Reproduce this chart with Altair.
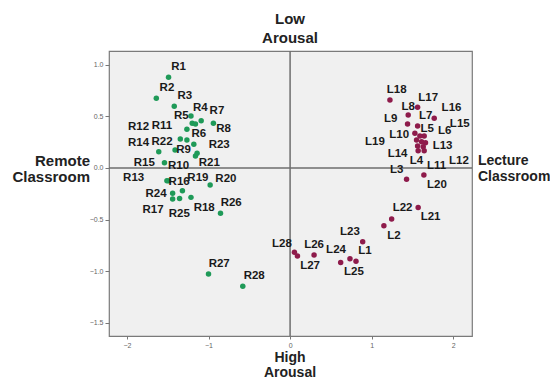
import altair as alt
import pandas as pd

# Remote classroom points (x, y) and label anchor positions (data units)
r_names = ["R1", "R2", "R3", "R4", "R5", "R6", "R7", "R8", "R9", "R10",
           "R11", "R12", "R13", "R14", "R15", "R16", "R17", "R18", "R19", "R20",
           "R21", "R22", "R23", "R24", "R25", "R26", "R27", "R28"]
r_x = [-1.49, -1.64, -1.42, -1.215, -1.20, -1.16, -1.09, -0.94, -1.41, -1.16,
       -1.265, -1.346, -1.51, -1.61, -1.54, -1.49, -1.44, -1.215, -1.32, -0.98,
       -1.14, -1.265, -1.18, -1.44, -1.355, -0.853, -1.00, -0.58]
r_y = [0.88, 0.676, 0.60, 0.504, 0.433, 0.427, 0.459, 0.433, 0.175, 0.116,
       0.375, 0.281, -0.123, 0.158, 0.05, -0.125, -0.30, -0.285, -0.22, -0.165,
       0.142, 0.272, 0.23, -0.246, -0.296, -0.44, -1.028, -1.148]
r_lx = [-1.367, -1.51, -1.29, -1.10, -1.334, -1.12, -0.897, -0.816, -1.306, -1.367,
        -1.57, -1.857, -1.918, -1.857, -1.787, -1.36, -1.68, -1.053, -1.13, -0.787,
        -0.991, -1.57, -0.869, -1.644, -1.359, -0.722, -0.869, -0.44]
r_ly = [0.983, 0.773, 0.698, 0.585, 0.504, 0.327, 0.556, 0.375, 0.175, 0.019,
        0.407, 0.395, -0.10, 0.245, 0.051, -0.133, -0.407, -0.391, -0.10, -0.11,
        0.051, 0.255, 0.223, -0.252, -0.446, -0.336, -0.931, -1.045]

# Lecture classroom points
l_names = ["L1", "L2", "L3", "L4", "L5", "L6", "L7", "L8", "L9", "L10",
           "L11", "L12", "L13", "L14", "L15", "L16", "L17", "L18", "L19", "L20",
           "L21", "L22", "L23", "L24", "L25", "L26", "L27", "L28"]
l_x = [0.808, 1.15, 1.428, 1.644, 1.53, 1.644, 1.563, 1.448, 1.44, 1.55,
       1.66, 1.612, 1.632, 1.57, 1.591, 1.767, 1.563, 1.224, 1.563, 1.64,
       1.57, 1.245, 0.89, 0.62, 0.734, 0.294, 0.09, 0.053]
l_y = [-0.905, -0.56, -0.11, 0.168, 0.336, 0.31, 0.407, 0.514, 0.427, 0.272,
       0.245, 0.255, 0.207, 0.168, 0.31, 0.482, 0.589, 0.66, 0.213, -0.068,
       -0.383, -0.495, -0.715, -0.918, -0.88, -0.844, -0.854, -0.818]
l_lx = [0.918, 1.273, 1.306, 1.55, 1.68, 1.895, 1.661, 1.448, 1.232, 1.338,
        1.795, 2.07, 1.869, 1.318, 2.08, 1.979, 1.693, 1.306, 1.04, 1.80,
        1.722, 1.379, 0.734, 0.563, 0.783, 0.294, 0.245, -0.10]
l_ly = [-0.81, -0.66, -0.019, 0.068, 0.378, 0.362, 0.505, 0.595, 0.472, 0.32,
        0.019, 0.071, 0.213, 0.136, 0.427, 0.579, 0.676, 0.757, 0.255, -0.165,
        -0.478, -0.391, -0.624, -0.795, -1.009, -0.747, -0.95, -0.737]

x_ticks = [-2, -1, 0, 1, 2]
y_ticks = [-1.5, -1.0, -0.5, 0.0, 0.5, 1.0]
x_domain = [-2.22, 2.23]
y_domain = [-1.63, 1.135]

df = pd.concat([
    pd.DataFrame({"name": r_names, "x": r_x, "y": r_y, "lx": r_lx, "ly": r_ly, "group": "Remote"}),
    pd.DataFrame({"name": l_names, "x": l_x, "y": l_y, "lx": l_lx, "ly": l_ly, "group": "Lecture"}),
])

xs = alt.Scale(domain=x_domain, nice=False, zero=False)
ys = alt.Scale(domain=y_domain, nice=False, zero=False)

xaxis = alt.Axis(values=x_ticks, format="d", title=None, grid=False, domain=False,
                 tickSize=3, tickColor="#777", labelFontSize=7, labelColor="#666", labelPadding=2)
yaxis = alt.Axis(values=y_ticks, format=".1f", title=None, grid=False, domain=False,
                 tickSize=4, tickColor="#777", labelFontSize=7, labelColor="#666", labelPadding=2)

base = alt.Chart(df)

zero = pd.DataFrame({"v": [0]})
vline = alt.Chart(zero).mark_rule(color="#6e6e6e", strokeWidth=1.5).encode(
    x=alt.X("v:Q", scale=xs, axis=xaxis))
hline = alt.Chart(zero).mark_rule(color="#6e6e6e", strokeWidth=1.5).encode(
    y=alt.Y("v:Q", scale=ys, axis=yaxis))

points = base.mark_circle(size=30, opacity=1).encode(
    x=alt.X("x:Q", scale=xs, axis=xaxis),
    y=alt.Y("y:Q", scale=ys, axis=yaxis),
    color=alt.Color("group:N", scale=alt.Scale(domain=["Remote", "Lecture"],
                                               range=["#1f9a58", "#8e1b4b"]), legend=None),
)

labels = base.mark_text(fontSize=11.5, fontWeight="bold", color="#1a1a1a",
                        font="Liberation Sans", align="center", baseline="middle").encode(
    x=alt.X("lx:Q", scale=xs, axis=xaxis),
    y=alt.Y("ly:Q", scale=ys, axis=yaxis),
    text="name:N",
)


def title_text(txt, px, py, align="center", size=15):
    return alt.Chart(zero).mark_text(fontSize=size, fontWeight="bold", color="#222",
                                     font="Liberation Sans", align=align,
                                     baseline="middle").encode(
        x=alt.value(px), y=alt.value(py), text=alt.value(txt))


titles = [
    title_text("Low", 181, -32),
    title_text("Arousal", 181, -13),
    title_text("High", 181, 307, size=14),
    title_text("Arousal", 181, 322, size=14),
    title_text("Remote", -19, 110, "right"),
    title_text("Classroom", -19, 126, "right"),
    title_text("Lecture", 369, 110, "left", 14),
    title_text("Classroom", 369, 126, "left", 14),
]

chart = alt.layer(vline, hline, points, labels, *titles).properties(
    width=363, height=285,
    autosize=alt.AutoSizeParams(type="none"),
    padding={"left": 101, "top": 43, "right": 78, "bottom": 44},
    background="white",
).configure_view(fill="#f0f0f0", stroke="#7a7a7a", strokeWidth=1.2)

chart.save("out.html", embed_options={"renderer": "svg", "actions": False})
